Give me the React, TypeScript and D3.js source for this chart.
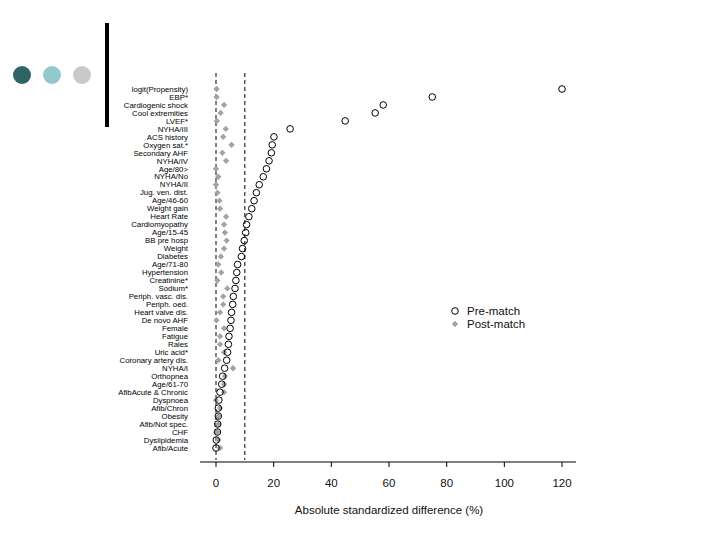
import { scaleLinear, scalePoint, symbol, symbolSquare } from "d3";

const categories = [
  "logit(Propensity)", "EBP*", "Cardiogenic shock", "Cool extremities", "LVEF*",
  "NYHA/III", "ACS history", "Oxygen sat.*", "Secondary AHF", "NYHA/IV",
  "Age/80>", "NYHA/No", "NYHA/II", "Jug. ven. dist.", "Age/46-60",
  "Weight gain", "Heart Rate", "Cardiomyopathy", "Age/15-45", "BB pre hosp",
  "Weight", "Diabetes", "Age/71-80", "Hypertension", "Creatinine*",
  "Sodium*", "Periph. vasc. dis.", "Periph. oed.", "Heart valve dis.", "De novo AHF",
  "Female", "Fatigue", "Rales", "Uric acid*", "Coronary artery dis.",
  "NYHA/I", "Orthopnea", "Age/61-70", "AfibAcute & Chronic", "Dyspnoea",
  "Afib/Chron", "Obesity", "Afib/Not spec.", "CHF", "Dyslipidemia", "Afib/Acute",
];

const preMatch = [
  120, 75, 58, 55.2, 44.8,
  25.7, 20.1, 19.5, 19.2, 18.4,
  17.5, 16.4, 15.0, 14.0, 13.2,
  12.4, 11.4, 10.6, 10.3, 9.8,
  9.2, 8.8, 7.5, 7.2, 6.9,
  6.6, 6.0, 5.8, 5.4, 5.2,
  4.9, 4.5, 4.3, 4.0, 3.7,
  3.0, 2.3, 2.0, 1.4, 1.0,
  0.8, 0.8, 0.6, 0.5, 0.1, 0,
];

const postMatch = [
  0.2, 0.2, 2.8, 1.6, 0.3,
  3.4, 2.5, 5.4, 2.2, 3.5,
  0, 0.8, 0, 0.5, 1.2,
  1.4, 3.5, 2.8, 3.1, 3.7,
  2.8, 1.7, 0.8, 1.8, 0.5,
  3.9, 2.5, 2.5, 1.4, 0.2,
  2.8, 1.4, 1.4, 2.8, 0.8,
  5.9, 3.1, 2.8, 2.8, 0,
  1.4, 0.8, 0.8, 0.5, 0.8, 1.4,
];

const xTicks = [0, 20, 40, 60, 80, 100, 120];
const refLines = [0, 10];
const dots = ["#2f6464", "#94c9cb", "#c9c9c9"];

export default function App() {
  const x = scaleLinear().domain([0, 120]).range([216, 562]);
  const y = scalePoint<string>().domain(categories).range([89, 448]);
  // square turned 45 degrees gives the plain diamond marker
  const diamond = symbol().type(symbolSquare).size(20)() ?? "";
  const font = "'Liberation Sans', Arial, sans-serif";

  return (
    <svg
      width={720}
      height={540}
      style={{ position: "fixed", left: 0, top: 0, background: "#fff" }}
      fontFamily={font}
    >
      {dots.map((c, i) => (
        <circle key={c} cx={22 + i * 30} cy={75} r={9} fill={c} />
      ))}
      <rect x={105} y={23} width={4} height={104} fill="#000" />

      {refLines.map((v) => (
        <line
          key={v}
          x1={x(v)}
          x2={x(v)}
          y1={73}
          y2={460}
          stroke="#000"
          strokeWidth={1}
          strokeDasharray="4,3"
        />
      ))}

      {categories.map((c) => (
        <text
          key={c}
          x={188}
          y={y(c)}
          dy="0.35em"
          textAnchor="end"
          fontSize={7.8}
          fill="#000"
        >
          {c}
        </text>
      ))}

      {categories.map((c, i) => (
        <path
          key={`post-${c}`}
          d={diamond}
          transform={`translate(${x(postMatch[i])},${y(c)}) rotate(45)`}
          fill="#a3a3a3"
        />
      ))}
      {categories.map((c, i) => (
        <circle
          key={`pre-${c}`}
          cx={x(preMatch[i])}
          cy={y(c)}
          r={3.3}
          fill="none"
          stroke="#000"
          strokeWidth={1}
        />
      ))}

      <line x1={200} x2={576} y1={462} y2={462} stroke="#000" />
      {xTicks.map((t) => (
        <g key={t} transform={`translate(${x(t)},462)`}>
          <line y1={0} y2={5} stroke="#000" />
          <text y={25} textAnchor="middle" fontSize={11.5} fill="#111">
            {t}
          </text>
        </g>
      ))}
      <text x={389} y={514} textAnchor="middle" fontSize={11.5} fill="#111">
        Absolute standardized difference (%)
      </text>

      <circle cx={455} cy={311} r={3.3} fill="none" stroke="#000" />
      <text x={467} y={311} dy="0.35em" fontSize={11.5} fill="#111">
        Pre-match
      </text>
      <path d={diamond} transform="translate(455,324) rotate(45)" fill="#a3a3a3" />
      <text x={467} y={324} dy="0.35em" fontSize={11.5} fill="#111">
        Post-match
      </text>
    </svg>
  );
}
